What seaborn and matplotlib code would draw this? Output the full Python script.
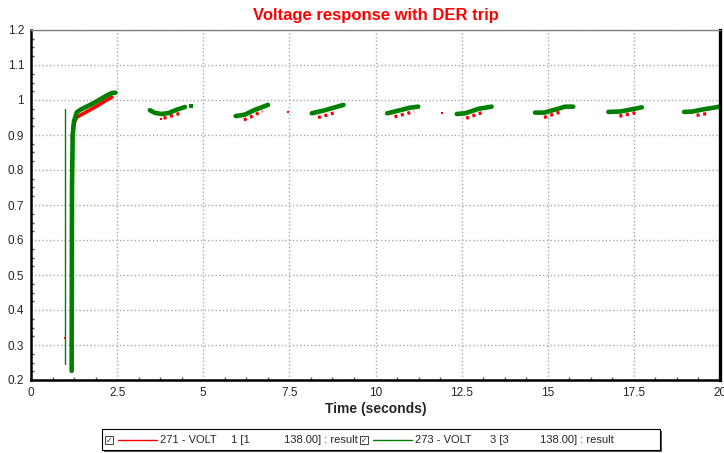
import numpy as np
import pandas as pd
import matplotlib
matplotlib.use("Agg")
import matplotlib.pyplot as plt
import seaborn as sns
from matplotlib.lines import Line2D
from matplotlib.patches import Rectangle
from matplotlib.ticker import MultipleLocator

# ==========================================
# Data
# ==========================================

# Bus 273 (green): one list of times / voltages per visible segment
green_t = [
    [1.18, 1.19, 1.21, 1.25, 1.33, 1.45, 1.8, 2.2, 2.35, 2.45],
    [3.45, 3.6, 3.8, 4.0, 4.25, 4.47],
    [5.94, 6.2, 6.5, 6.88],
    [8.15, 8.5, 9.07],
    [10.34, 10.6, 11.0, 11.24],
    [12.36, 12.6, 13.0, 13.37],
    [14.63, 14.9, 15.3, 15.5, 15.74],
    [16.76, 17.1, 17.73],
    [18.96, 19.2, 19.5, 20.0],
]
green_v = [
    [0.226, 0.75, 0.90, 0.94, 0.965, 0.973, 0.99, 1.013, 1.02, 1.021],
    [0.971, 0.963, 0.960, 0.963, 0.973, 0.980],
    [0.954, 0.958, 0.972, 0.986],
    [0.962, 0.970, 0.986],
    [0.962, 0.968, 0.978, 0.981],
    [0.960, 0.962, 0.975, 0.981],
    [0.964, 0.964, 0.975, 0.981, 0.981],
    [0.966, 0.967, 0.979],
    [0.966, 0.967, 0.973, 0.981],
]
green_dot_t = [4.64]
green_dot_v = [0.982]
# thin green spike at fault instant
spike_t = [0.99, 0.99]
spike_v = [0.246, 0.974]

# Bus 271 (red)
red_t = [
    [1.2, 1.23, 1.33, 1.5, 1.9, 2.2, 2.35],
    [3.85, 4.33],
    [6.18, 6.45, 6.72],
    [8.33, 8.6, 8.85],
    [10.55, 11.12],
    [12.63, 13.18],
    [14.89, 15.4],
    [17.08, 17.58],
    [19.32, 19.66],
]
red_v = [
    [0.89, 0.93, 0.951, 0.96, 0.982, 1.0, 1.008],
    [0.948, 0.962],
    [0.943, 0.955, 0.969],
    [0.950, 0.957, 0.965],
    [0.952, 0.967],
    [0.948, 0.967],
    [0.950, 0.967],
    [0.954, 0.964],
    [0.956, 0.962],
]
red_dot_t = [1.0, 3.77, 7.45, 11.94]
red_dot_v = [0.32, 0.945, 0.965, 0.964]

y_ticks = [0.2, 0.3, 0.4, 0.5, 0.6, 0.7, 0.8, 0.9, 1.0, 1.1, 1.2]
y_labels = ["0.2", "0.3", "0.4", "0.5", "0.6", "0.7", "0.8", "0.9", "1", "1.1", "1.2"]
x_ticks = [0, 2.5, 5, 7.5, 10, 12.5, 15, 17.5, 20]
x_labels = ["0", "2.5", "5", "7.5", "10", "12.5", "15", "17.5", "20"]


def to_frame(ts, vs):
    rows = []
    for i, (t, v) in enumerate(zip(ts, vs)):
        for a, b in zip(t, v):
            rows.append({"t": a, "v": b, "seg": i})
    return pd.DataFrame(rows)


# ==========================================
# Plotting
# ==========================================

sns.set_theme(style="white")
plt.rcParams["font.family"] = ["Liberation Sans", "DejaVu Sans"]

RED = "#ff0000"
GREEN = "#008000"

fig = plt.figure(figsize=(7.24, 4.53), dpi=100)
ax = fig.add_axes([31 / 724, 1 - 380 / 453, 689 / 724, 350 / 453])

red_df = to_frame(red_t, red_v)
first = red_df[red_df.seg == 0]
rest = red_df[red_df.seg > 0]
sns.lineplot(data=first, x="t", y="v", units="seg", estimator=None, sort=False,
             color=RED, linewidth=2.6, ax=ax, legend=False)
sns.lineplot(data=rest, x="t", y="v", units="seg", estimator=None, sort=False,
             color=RED, linewidth=2.4, ax=ax, legend=False)
for ln in ax.lines[1:]:
    ln.set_dashes((0.9, 1.1))
    ln.set_dash_capstyle("butt")
sns.scatterplot(x=red_dot_t, y=red_dot_v, color=RED, marker="s", s=4,
                linewidth=0, ax=ax, legend=False)

sns.lineplot(x=spike_t, y=spike_v, color=GREEN, linewidth=1.0, sort=False,
             estimator=None, ax=ax, legend=False)
sns.lineplot(data=to_frame(green_t, green_v), x="t", y="v", units="seg",
             estimator=None, sort=False, color=GREEN, linewidth=3.3,
             ax=ax, legend=False)
sns.scatterplot(x=green_dot_t, y=green_dot_v, color=GREEN, marker="s", s=9,
                linewidth=0, ax=ax, legend=False)

ax.set_xlim(0, 20)
ax.set_ylim(0.2, 1.2)
ax.set_xticks(x_ticks)
ax.set_xticklabels(x_labels)
ax.set_yticks(y_ticks)
ax.set_yticklabels(y_labels)
ax.xaxis.set_minor_locator(MultipleLocator(0.625))
ax.yaxis.set_minor_locator(MultipleLocator(0.025))
ax.tick_params(axis="both", which="major", labelsize=8.5, length=3,
               direction="in", color="black", pad=5)
ax.tick_params(axis="both", which="minor", length=2, direction="in",
               color="#555555", bottom=True, left=True)
ax.grid(True, which="major", color="#a8a8a8", linestyle=":", linewidth=1.0)

for side in ["left", "bottom"]:
    ax.spines[side].set_color("black")
    ax.spines[side].set_linewidth(1.8)
ax.spines["right"].set_color("black")
ax.spines["right"].set_linewidth(2.4)
ax.spines["top"].set_color("#808080")
ax.spines["top"].set_linewidth(1.0)

ax.set_title("Voltage response with DER trip", color=RED, fontsize=12,
             fontweight="bold", pad=7)
ax.set_xlabel("Time (seconds)", fontsize=10, fontweight="bold", labelpad=2)
ax.set_ylabel("")

# Legend box underneath, drawn in figure pixel coordinates
def fx(px):
    return px / 724

def fy(py):
    return 1 - py / 453

fig.add_artist(Rectangle((fx(104), fy(452)), fx(558), 21 / 453,
                         facecolor="#555555", edgecolor="none",
                         transform=fig.transFigure))
fig.add_artist(Rectangle((fx(102), fy(450)), fx(558), 21 / 453,
                         facecolor="white", edgecolor="black", linewidth=0.8,
                         transform=fig.transFigure))
row_y = fy(440)
for cx, col, parts in [
    (105, RED, [(160, "271 - VOLT"), (231, "1 [1"), (284, "138.00] : result")]),
    (360, GREEN, [(415, "273 - VOLT"), (490, "3 [3"), (540, "138.00] : result")]),
]:
    fig.add_artist(Rectangle((fx(cx), fy(444)), fx(8), 8 / 453,
                             facecolor="white", edgecolor="#404040",
                             linewidth=0.7, transform=fig.transFigure))
    fig.text(fx(cx + 4), fy(440.5), "\u2713", fontsize=5.5, ha="center",
             va="center", family=["DejaVu Sans"])
    fig.add_artist(Line2D([fx(cx + 13), fx(cx + 52)], [row_y, row_y],
                          color=col, linewidth=1.0,
                          transform=fig.transFigure))
    for px, txt in parts:
        fig.text(fx(px), row_y, txt, fontsize=8, ha="left", va="center")

fig.savefig("out.png", dpi=100)
plt.close(fig)
